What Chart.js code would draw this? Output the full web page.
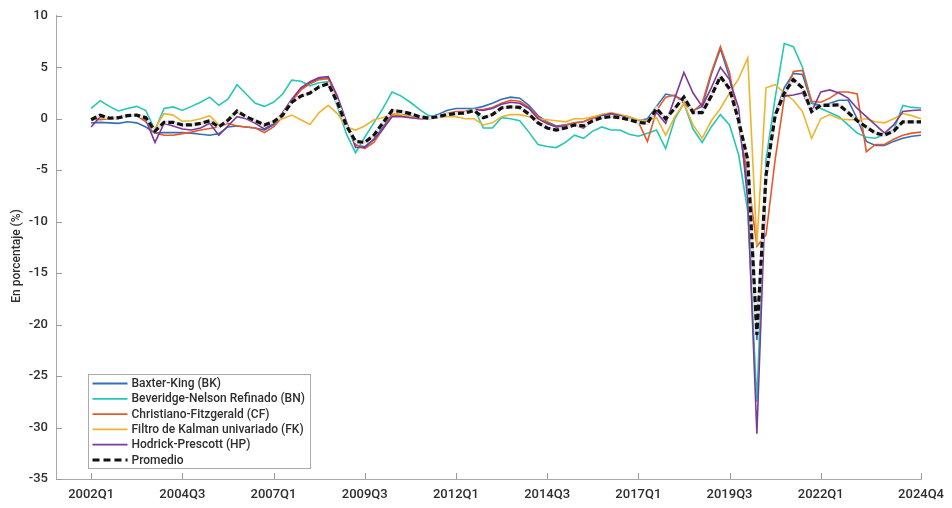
<!DOCTYPE html>
<html>
<head>
<meta charset="utf-8">
<script src="https://cdn.jsdelivr.net/npm/chart.js@4"></script>
<style>
  html, body { margin: 0; padding: 0; background: #fff; }
  #wrap { width: 952px; height: 508px; }
</style>
</head>
<body>
<div id="wrap"><canvas id="brecha" width="952" height="508"></canvas></div>
<script>
// Quarterly labels 2002Q1..2024Q4
const quarters = [];
for (let year = 2002; year <= 2024; year++) {
  for (let q = 1; q <= 4; q++) quarters.push(year + "Q" + q);
}

const tickQuarters = ["2002Q1", "2004Q3", "2007Q1", "2009Q3", "2012Q1",
  "2014Q3", "2017Q1", "2019Q3", "2022Q1", "2024Q4"];

const bk = [-0.4, -0.35, -0.4, -0.45, -0.3, -0.4, -0.8, -1.4, -1.35, -1.35,
  -1.35, -1.4, -1.5, -1.6, -1.45, -0.8, -0.7, -0.8, -0.9, -1.1,
  -0.6, 0.3, 1.8, 2.9, 3.5, 3.9, 4.0, 1.8, -0.6, -2.6,
  -2.7, -2.0, -0.8, 0.5, 0.4, 0.3, 0.1, 0.1, 0.4, 0.8,
  1.0, 1.0, 1.0, 1.2, 1.5, 1.9, 2.1, 2.0, 1.3, 0.3,
  -0.3, -0.7, -0.6, -0.4, -0.3, 0.1, 0.4, 0.5, 0.3, 0.2,
  -0.2, 0.0, 1.2, 2.4, 2.2, 1.8, 0.8, 1.2, 4.3, 6.8,
  4.0, -0.5, -6.5, -21.5, -5.0, 0.5, 3.0, 4.4, 4.3, 1.5,
  1.3, 1.5, 1.8, 1.8, 0.0, -2.2, -2.6, -2.6, -2.2, -1.9,
  -1.7, -1.6];

const bn = [1.0, 1.75, 1.2, 0.75, 1.0, 1.2, 0.8, -1.1, 1.0, 1.15,
  0.8, 1.2, 1.6, 2.1, 1.3, 1.9, 3.3, 2.4, 1.5, 1.2,
  1.6, 2.4, 3.75, 3.65, 3.2, 3.5, 3.6, 1.2, -1.5, -3.3,
  -1.8, -0.4, 1.0, 2.6, 2.2, 1.6, 0.9, 0.3, 0.2, 0.3,
  0.5, 0.7, 1.0, -0.9, -0.9, 0.1, 0.0, -0.2, -1.3, -2.5,
  -2.7, -2.8, -2.3, -1.6, -1.9, -1.2, -0.8, -1.1, -1.1, -1.5,
  -1.7, -1.4, -1.1, -2.9, 0.0, 1.5, -1.0, -2.3, -0.8, 0.4,
  -0.6, -3.5, -9.0, -27.5, -4.0, 2.0, 7.3, 7.0, 5.0, 1.6,
  1.0, 0.6, 0.2, -0.6, -1.4, -1.8, -1.9, -1.5, -1.1, 1.3,
  1.1, 1.05];

const cf = [0.0, -0.1, 0.0, 0.1, 0.3, 0.3, -0.3, -1.4, -1.6, -1.6,
  -1.45, -1.3, -1.1, -0.95, -0.8, -0.45, -0.7, -0.8, -0.9, -1.35,
  -0.8, 0.2, 1.7, 2.8, 3.4, 3.8, 3.9, 2.0, -0.4, -2.5,
  -2.9, -2.3, -1.0, 0.4, 0.3, 0.2, 0.1, 0.0, 0.2, 0.5,
  0.7, 0.7, 0.9, 0.9, 1.1, 1.5, 1.8, 1.7, 1.1, 0.2,
  -0.4, -0.8, -0.6, -0.4, -0.3, 0.1, 0.3, 0.5, 0.3, 0.0,
  -0.3, -2.2, 0.8, 2.1, 2.3, 1.5, 0.7, 1.5, 4.5, 7.0,
  4.5, -0.5, -5.5, -12.4, -11.3, -4.0, 2.0, 4.6, 4.7, 1.7,
  1.6, 2.0, 2.6, 2.6, 2.4, -3.2, -2.5, -2.5, -2.0, -1.6,
  -1.4, -1.3];

const fk = [-0.1, 0.1, 0.0, 0.0, 0.35, 0.4, -0.15, -0.95, 0.5, 0.35,
  -0.25, -0.2, 0.0, 0.3, -0.6, -0.2, 0.6, 0.2, -0.3, -0.6,
  -0.2, 0.0, 0.35, -0.1, -0.55, 0.6, 1.3, 0.5, -0.8, -1.1,
  -0.7, -0.1, 0.1, 0.5, 0.4, 0.2, 0.0, 0.0, 0.1, 0.2,
  0.2, 0.0, 0.0, -0.6, -0.4, 0.2, 0.4, 0.4, 0.2, 0.0,
  -0.1, -0.2, -0.3, 0.0, 0.0, 0.2, 0.4, 0.6, 0.4, 0.2,
  -0.1, -0.2, 0.1, -1.6, 0.2, 1.5, -0.6, -1.9, -0.2, 1.0,
  2.5, 3.9, 5.9, -12.3, 3.0, 3.3, 2.5, 1.8, 0.7, -1.9,
  0.0, 0.4, 0.0, -0.1, -0.1, 0.0, -0.3, -0.4, 0.0, 0.5,
  0.3, 0.0];

const hp = [-0.8, 0.2, 0.1, 0.1, 0.3, 0.3, -0.1, -2.3, -0.45, -0.7,
  -1.0, -1.1, -0.9, -0.45, -1.6, -0.7, 0.2, 0.0, -0.45, -1.0,
  -0.45, 0.6, 1.9, 3.0, 3.6, 4.0, 4.1, 2.2, -0.3, -2.8,
  -2.8, -2.0, -1.0, 0.2, 0.2, 0.1, 0.0, 0.0, 0.2, 0.4,
  0.5, 0.6, 0.9, 0.8, 1.0, 1.4, 1.6, 1.5, 1.0, 0.0,
  -0.5, -0.8, -0.7, -0.6, -0.9, -0.1, 0.3, 0.5, 0.3, 0.0,
  -0.4, -0.3, 0.6, -0.45, 2.0, 4.5, 2.5, 1.2, 3.0, 5.0,
  3.8, 1.0, -8.0, -30.6, -6.0, 0.5, 2.2, 2.3, 2.5, 0.7,
  2.6, 2.8, 2.5, 2.0, 1.0, 0.2, -0.6, -1.4, -0.6, 0.7,
  0.8, 0.85];

const promedio = [-0.1, 0.35, 0.05, 0.1, 0.3, 0.35, 0.1, -1.2, -0.35, -0.35,
  -0.6, -0.6, -0.45, -0.2, -0.8, -0.15, 0.75, 0.2, -0.2, -0.6,
  -0.3, 0.35, 1.6, 2.2, 2.5, 3.1, 3.4, 1.6, -0.7, -2.2,
  -2.3, -1.6, -0.4, 0.8, 0.7, 0.5, 0.2, 0.05, 0.2, 0.4,
  0.5, 0.55, 0.8, 0.1, 0.4, 1.05, 1.15, 1.1, 0.45, -0.4,
  -0.9, -1.1, -0.9, -0.6, -0.7, -0.2, 0.1, 0.2, 0.1, -0.1,
  -0.35, -0.45, 1.0, 0.0, 1.0, 2.1, 0.6, 0.6, 2.2, 4.1,
  2.9, -0.2, -4.0, -21.0, -5.5, 0.3, 2.5, 3.8, 3.0, 0.7,
  1.3, 1.3, 1.35, 0.6, -0.2, -0.8, -1.4, -1.6, -1.2, -0.3,
  -0.3, -0.3];

const yTitle = "En porcentaje (%)";

const toPoints = (arr) => arr.map((v, i) => ({ x: i, y: v }));

const FONT = "Roboto, 'DejaVu Sans', sans-serif";
const INK = "#2e2e2e";

const series = [
  { label: "Baxter-King (BK)", data: bk, color: "#3371b6", order: 6 },
  { label: "Beveridge-Nelson Refinado (BN)", data: bn, color: "#27c7b3", order: 5 },
  { label: "Christiano-Fitzgerald (CF)", data: cf, color: "#e9582b", order: 4 },
  { label: "Filtro de Kalman univariado (FK)", data: fk, color: "#efb42f", order: 3 },
  { label: "Hodrick-Prescott (HP)", data: hp, color: "#7d3b99", order: 2 },
];

const datasets = series.map((s) => ({
  label: s.label,
  data: toPoints(s.data),
  borderColor: s.color,
  borderWidth: 1.6,
  pointRadius: 0,
  tension: 0,
  order: s.order,
}));

// light band under the dashed average so the gaps read as pale
datasets.push({
  label: "_promedio_fondo",
  data: toPoints(promedio),
  borderColor: "#e4e4e4",
  borderWidth: 3.2,
  pointRadius: 0,
  tension: 0,
  order: 1,
});
datasets.push({
  label: "Promedio",
  data: toPoints(promedio),
  borderColor: "#111111",
  borderWidth: 3.2,
  borderDash: [6, 3],
  pointRadius: 0,
  tension: 0,
  order: 0,
});

// inward tick marks, axis title and the boxed legend in the lower-left corner
const frame = {
  id: "frame",
  afterDraw(chart) {
    const { ctx, chartArea: a, scales: { x, y } } = chart;
    ctx.save();
    ctx.strokeStyle = "#9a9a9a";
    ctx.lineWidth = 1;
    ctx.beginPath();
    y.ticks.forEach((t) => {
      const py = Math.round(y.getPixelForValue(t.value)) + 0.5;
      ctx.moveTo(a.left, py);
      ctx.lineTo(a.left + 6, py);
    });
    x.ticks.forEach((t) => {
      const px = Math.round(x.getPixelForValue(t.value)) + 0.5;
      ctx.moveTo(px, a.bottom);
      ctx.lineTo(px, a.bottom - 6);
    });
    ctx.stroke();

    // y axis title
    ctx.save();
    ctx.translate(17, 256);
    ctx.rotate(-Math.PI / 2);
    ctx.font = "500 12px " + FONT;
    ctx.fillStyle = INK;
    ctx.textAlign = "center";
    ctx.textBaseline = "middle";
    ctx.fillText(yTitle, 0, 0);
    ctx.restore();

    const entries = series.map((s) => ({ label: s.label, color: s.color, dash: [] }));
    entries.push({ label: "Promedio", color: "#111111", dash: [7, 4], width: 3 });

    const bx = a.left + 32.5, by = 374.5, bw = 222, bh = 94;
    ctx.fillStyle = "#ffffff";
    ctx.fillRect(bx, by, bw, bh);
    ctx.strokeStyle = "#aaaaaa";
    ctx.strokeRect(bx, by, bw, bh);

    ctx.font = "500 12px " + FONT;
    ctx.textBaseline = "middle";
    entries.forEach((e, i) => {
      const ly = by + 9 + i * 15.3;
      ctx.beginPath();
      ctx.setLineDash(e.dash);
      ctx.strokeStyle = e.color;
      ctx.lineWidth = e.width || 1.8;
      ctx.moveTo(bx + 4, ly);
      ctx.lineTo(bx + 39, ly);
      ctx.stroke();
      ctx.setLineDash([]);
      ctx.fillStyle = INK;
      ctx.fillText(e.label, bx + 43, ly + 0.5);
    });
    ctx.restore();
  },
};

new Chart(document.getElementById("brecha"), {
  type: "line",
  data: { datasets },
  options: {
    responsive: false,
    animation: false,
    devicePixelRatio: 1,
    layout: { padding: { top: 15, right: 26, left: 0, bottom: 0 } },
    plugins: { legend: { display: false }, tooltip: { enabled: false } },
    scales: {
      x: {
        type: "linear",
        min: -3.85,
        max: 91,
        afterFit: (s) => { s.height = 29; },
        afterBuildTicks: (s) => {
          s.ticks = tickQuarters.map((q) => ({ value: quarters.indexOf(q) }));
        },
        grid: { display: false, drawTicks: false },
        border: { display: true, color: "#a8a8a8", width: 1 },
        ticks: {
          autoSkip: false,
          maxRotation: 0,
          minRotation: 0,
          padding: 8,
          color: INK,
          font: { family: FONT, size: 13, weight: "500" },
          callback: (v) => quarters[v],
        },
      },
      y: {
        min: -35,
        max: 10,
        afterFit: (s) => { s.width = 56; },
        grid: { display: false, drawTicks: false },
        border: { display: true, color: "#a8a8a8", width: 1 },
        ticks: {
          stepSize: 5,
          padding: 8,
          color: INK,
          font: { family: FONT, size: 13, weight: "500" },
        },
      },
    },
  },
  plugins: [frame],
});
</script>
</body>
</html>
